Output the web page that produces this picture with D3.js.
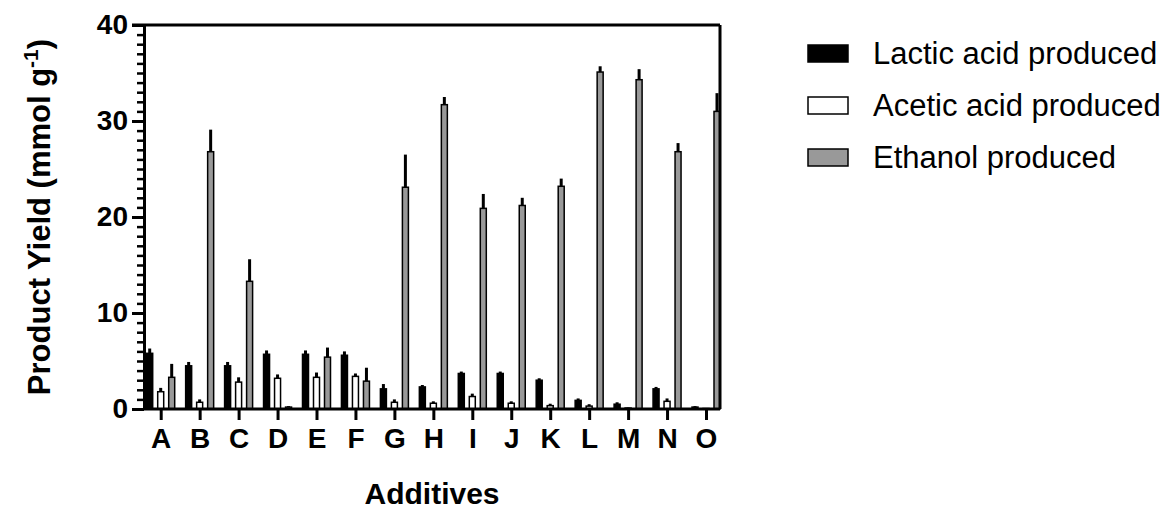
<!DOCTYPE html>
<html><head><meta charset="utf-8">
<script src="https://cdn.jsdelivr.net/npm/d3@7"></script>
<style>body{margin:0;background:#fff;} svg{display:block;font-family:"Liberation Sans",Arial,sans-serif;}</style>
</head><body>
<svg id="chart" width="1172" height="512"></svg>
<script>
const categories = ["A","B","C","D","E","F","G","H","I","J","K","L","M","N","O"];
const seriesNames = ["Lactic acid produced","Acetic acid produced","Ethanol produced"];
const lactic      = [5.8, 4.5, 4.5, 5.7, 5.7, 5.6, 2.1, 2.3, 3.7, 3.7, 3.0, 0.9, 0.5, 2.1, 0.2];
const lacticErr   = [0.5, 0.4, 0.4, 0.4, 0.4, 0.4, 0.5, 0.2, 0.2, 0.2, 0.2, 0.2, 0.2, 0.2, 0.1];
const acetic      = [1.8, 0.7, 2.8, 3.2, 3.3, 3.4, 0.7, 0.6, 1.3, 0.6, 0.35, 0.3, 0.1, 0.8, 0.05];
const aceticErr   = [0.4, 0.3, 0.5, 0.4, 0.5, 0.3, 0.3, 0.2, 0.3, 0.2, 0.2, 0.2, 0.05, 0.3, 0.05];
const ethanol     = [3.3, 26.8, 13.3, 0.2, 5.4, 2.9, 23.1, 31.7, 20.9, 21.2, 23.2, 35.1, 34.3, 26.8, 31.0];
const ethanolErr  = [1.4, 2.3, 2.3, 0.1, 1.0, 1.4, 3.4, 0.8, 1.5, 0.8, 0.8, 0.6, 1.1, 0.9, 1.9];
const yTicks = [0, 10, 20, 30, 40];
const fills = ["#000000", "#ffffff", "#999999"];

const values = [lactic, acetic, ethanol];
const errs = [lacticErr, aceticErr, ethanolErr];

const svg = d3.select("#chart");
const pLeft = 144, pRight = 720, pTop = 25, pBottom = 409;

const y = d3.scaleLinear().domain([0, 40]).range([pBottom, pTop]);
const x = d3.scalePoint().domain(categories).range([160.7, 706]);
const xs = d3.scalePoint().domain(seriesNames).range([-11, 11]);
const barW = 6;

const data = [];
categories.forEach((c, i) => seriesNames.forEach((s, k) => data.push({c, s, k, v: values[k][i], e: errs[k][i]})));

const g = svg.append("g");
g.selectAll("line.err").data(data).join("line")
  .attr("x1", d => x(d.c) + xs(d.s)).attr("x2", d => x(d.c) + xs(d.s))
  .attr("y1", d => y(d.v)).attr("y2", d => y(d.v + d.e))
  .attr("stroke", "#000").attr("stroke-width", 3);
g.selectAll("rect.bar").data(data).join("rect")
  .attr("x", d => x(d.c) + xs(d.s) - barW / 2)
  .attr("width", barW)
  .attr("y", d => y(d.v))
  .attr("height", d => y(0) - y(d.v))
  .attr("fill", d => fills[d.k])
  .attr("stroke", "#000").attr("stroke-width", 1.5);

// frame (top and right)
svg.append("line").attr("x1", pLeft - 12).attr("x2", pRight).attr("y1", y(40)).attr("y2", y(40))
  .attr("stroke", "#000").attr("stroke-width", 3);
svg.append("line").attr("x1", pRight).attr("x2", pRight).attr("y1", y(40)).attr("y2", y(0))
  .attr("stroke", "#000").attr("stroke-width", 3);

// minor ticks on y
const yMinor = d3.axisLeft(y).tickValues(d3.range(0, 41, 1)).tickSize(7).tickFormat("");
const gm = svg.append("g").attr("transform", `translate(${pLeft},0)`).call(yMinor);
gm.select(".domain").remove();
gm.selectAll("line").attr("stroke", "#000").attr("stroke-width", 2.5);

// y axis
const yAxis = d3.axisLeft(y).tickValues(yTicks).tickSize(12).tickPadding(4).tickSizeOuter(0);
const gy = svg.append("g").attr("transform", `translate(${pLeft},0)`).call(yAxis);
gy.select(".domain").attr("stroke", "#000").attr("stroke-width", 3);
gy.selectAll("line").attr("stroke", "#000").attr("stroke-width", 3);
gy.selectAll("text").attr("font-size", 28).attr("font-weight", "bold").attr("fill", "#000")
  .attr("font-family", "Liberation Sans, Arial, sans-serif");

// x axis
const xAxis = d3.axisBottom(x).tickSize(11).tickPadding(8).tickSizeOuter(0);
const gx = svg.append("g").attr("transform", `translate(0,${pBottom})`).call(xAxis);
gx.select(".domain").attr("d", `M${pLeft},0H${pRight}`).attr("stroke", "#000").attr("stroke-width", 3);
gx.selectAll("line").attr("stroke", "#000").attr("stroke-width", 3);
gx.selectAll("text").attr("font-size", 28).attr("font-weight", "bold").attr("fill", "#000")
  .attr("font-family", "Liberation Sans, Arial, sans-serif");

// axis titles
svg.append("text").attr("x", (pLeft + pRight) / 2).attr("y", 504)
  .attr("text-anchor", "middle").attr("font-size", 30).attr("font-weight", "bold").text("Additives");
const yt = svg.append("text").attr("transform", `translate(50,217) rotate(-90)`)
  .attr("text-anchor", "middle").attr("font-size", 31).attr("font-weight", "bold");
yt.append("tspan").text("Product Yield (mmol g");
yt.append("tspan").attr("font-size", 21).attr("dy", -12).text("-1");
yt.append("tspan").attr("dy", 12).text(")");

// legend
const lg = svg.append("g");
const ly = d3.scalePoint().domain(seriesNames).range([53, 157]);
lg.selectAll("rect").data(seriesNames).join("rect")
  .attr("x", 808).attr("y", d => ly(d) - 8).attr("width", 40).attr("height", 17)
  .attr("fill", (d, i) => fills[i]).attr("stroke", "#000").attr("stroke-width", 1.5);
lg.selectAll("text").data(seriesNames).join("text")
  .attr("x", 873).attr("y", d => ly(d)).attr("dy", "0.36em")
  .attr("font-size", 31).attr("fill", "#000").text(d => d);
</script>
</body></html>
